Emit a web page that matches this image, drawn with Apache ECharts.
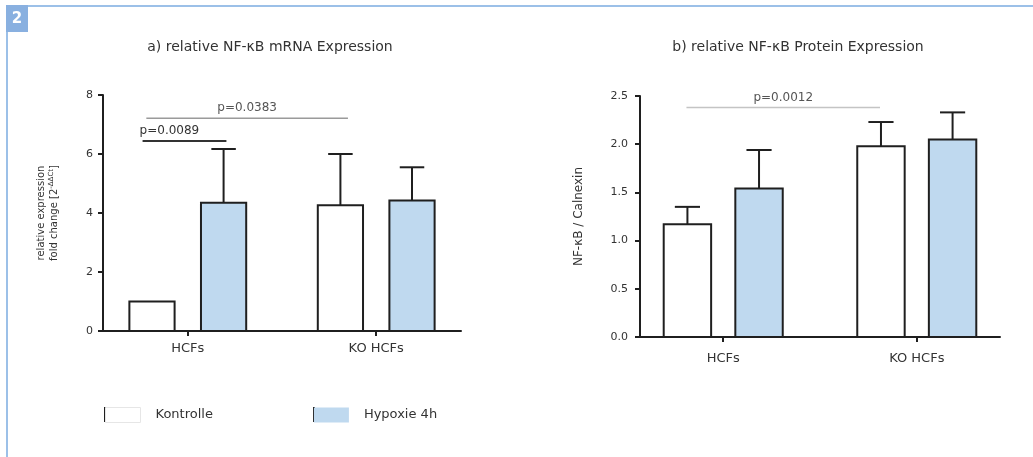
<!DOCTYPE html>
<html>
<head>
<meta charset="utf-8">
<script src="https://cdn.jsdelivr.net/npm/echarts@6/dist/echarts.min.js"></script>
<style>
  html, body { margin: 0; padding: 0; background: #fff; }
  #chart { width: 1033px; height: 457px; }
</style>
</head>
<body>
<div id="chart"></div>
<script>
// Groups on the x axis (0 and 1 on each panel's x scale)
const groups = ['HCFs', 'KO HCFs'];
const seriesNames = ['Kontrolle', 'Hypoxie 4h'];

// a) relative NF-κB mRNA expression (fold change), mean and upper SD
const mrnaKontrolle = [1.0, 4.26];
const mrnaKontrolleSD = [0, 1.74];
const mrnaHypoxie = [4.35, 4.42];
const mrnaHypoxieSD = [1.82, 1.13];

// b) relative NF-κB protein expression (NF-κB / Calnexin), mean and upper SD
const protKontrolle = [1.17, 1.98];
const protKontrolleSD = [0.18, 0.25];
const protHypoxie = [1.54, 2.05];
const protHypoxieSD = [0.40, 0.28];

// Significance brackets: [x start, x end, y, label]
const mrnaBrackets = [
  [-0.22, 0.85, 7.21, 'p=0.0383'],
  [-0.24, 0.205, 6.44, 'p=0.0089']
];
const protBrackets = [
  [-0.19, 0.81, 2.38, 'p=0.0012']
];

// y-axis ticks
const mrnaTicks = [0, 2, 4, 6, 8];
const protTicks = [0, 0.5, 1.0, 1.5, 2.0, 2.5];

const INK = '#1f1f1f';
const TXT = '#333';
const BLUE = '#bfd9ef';
const FONT = 'DejaVu Sans';

function rows(means, sds) {
  return means.map((m, i) => [i, m, sds[i]]);
}

function barRenderer(offset, width, capWidth) {
  return function (params, api) {
    const cx = api.value(0) + offset;
    const v = api.value(1);
    const e = api.value(2);
    const w = api.size([width, 0])[0];
    const capHalf = api.size([capWidth, 0])[0] / 2;
    const top = api.coord([cx, v]);
    const base = api.coord([cx, 0]);
    const errTop = api.coord([cx, v + e]);
    const children = [];
    if (e > 0) {
      children.push({
        type: 'line',
        shape: { x1: top[0], y1: top[1], x2: errTop[0], y2: errTop[1] },
        style: { stroke: INK, lineWidth: 2 }
      });
      children.push({
        type: 'line',
        shape: { x1: errTop[0] - capHalf, y1: errTop[1], x2: errTop[0] + capHalf, y2: errTop[1] },
        style: { stroke: INK, lineWidth: 2 }
      });
    }
    children.push({
      type: 'rect',
      shape: { x: top[0] - w / 2, y: top[1], width: w, height: base[1] - top[1] },
      style: { fill: api.visual('color'), stroke: INK, lineWidth: 2 }
    });
    return { type: 'group', children };
  };
}

function bracketRenderer(styles) {
  return function (params, api) {
    const i = params.dataIndex;
    const s = styles[i];
    const a = api.coord([api.value(0), api.value(2)]);
    const b = api.coord([api.value(1), api.value(2)]);
    const label = s.labels[i];
    const tx = s.align === 'left' ? a[0] - 3 : (a[0] + b[0]) / 2;
    return {
      type: 'group',
      children: [
        { type: 'line', shape: { x1: a[0], y1: a[1], x2: b[0], y2: b[1] },
          style: { stroke: s.color, lineWidth: s.width } },
        { type: 'text', x: tx, y: a[1] - 4,
          style: { text: label, fill: s.textColor, font: '12px "' + FONT + '"',
                   textAlign: s.align, textVerticalAlign: 'bottom' } }
      ]
    };
  };
}

const xAxisCommon = {
  type: 'value',
  interval: 1,
  axisLine: { show: true, onZero: false, lineStyle: { color: INK, width: 2 } },
  axisTick: { show: true, length: 5, customValues: [0, 1], lineStyle: { color: INK, width: 2 } },
  axisLabel: {
    customValues: [0, 1],
    formatter: v => groups[Math.round(v)],
    color: TXT, fontFamily: FONT, fontSize: 13, margin: 11
  },
  splitLine: { show: false }
};

const yAxisCommon = {
  type: 'value',
  axisLine: { show: true, onZero: false, lineStyle: { color: INK, width: 2 } },
  axisTick: { show: true, length: 5, lineStyle: { color: INK, width: 2 } },
  splitLine: { show: false },
  nameLocation: 'middle',
  nameRotate: 90
};

const chart = echarts.init(document.getElementById('chart'), null, { renderer: 'canvas' });

const option = {
  backgroundColor: '#ffffff',
  animation: false,
  title: [
    { text: 'a) relative NF-κB mRNA Expression', left: 265, top: 35, textAlign: 'center',
      textStyle: { fontFamily: FONT, fontSize: 14, fontWeight: 'normal', color: TXT } },
    { text: 'b) relative NF-κB Protein Expression', left: 793, top: 35, textAlign: 'center',
      textStyle: { fontFamily: FONT, fontSize: 14, fontWeight: 'normal', color: TXT } }
  ],
  legend: {
    left: 105, top: 407, padding: 0,
    itemWidth: 35, itemHeight: 15, itemGap: 101,
    selectedMode: false,
    textStyle: { fontFamily: FONT, fontSize: 13, color: TXT, padding: [0, 0, 0, 10] },
    data: [
      { name: seriesNames[0], icon: 'rect', itemStyle: { color: '#ffffff', borderColor: '#e6e6e6', borderWidth: 1 } },
      { name: seriesNames[1], icon: 'rect', itemStyle: { color: BLUE, borderWidth: 0 } }
    ]
  },
  grid: [
    { left: 103, right: 572, top: 95, bottom: 126 },
    { left: 640, right: 33, top: 96, bottom: 120 }
  ],
  xAxis: [
    Object.assign({}, xAxisCommon, { gridIndex: 0, min: -0.45, max: 1.45 }),
    Object.assign({}, xAxisCommon, { gridIndex: 1, min: -0.43, max: 1.43,
      axisLabel: Object.assign({}, xAxisCommon.axisLabel, { margin: 15 }) })
  ],
  yAxis: [
    Object.assign({}, yAxisCommon, {
      gridIndex: 0, min: mrnaTicks[0], max: mrnaTicks[mrnaTicks.length - 1], interval: 2,
      axisLabel: { color: TXT, fontFamily: FONT, fontSize: 11, margin: 10 },
      name: 'relative expression\nfold change [2{sup|-ΔΔCt}]',
      nameGap: 42,
      nameTextStyle: { fontFamily: FONT, fontSize: 10, color: TXT, lineHeight: 13,
        rich: { sup: { fontFamily: FONT, fontSize: 7, color: TXT, verticalAlign: 'top', lineHeight: 13 } } }
    }),
    Object.assign({}, yAxisCommon, {
      gridIndex: 1, min: protTicks[0], max: protTicks[protTicks.length - 1], interval: 0.5,
      axisLabel: { color: TXT, fontFamily: FONT, fontSize: 11, margin: 12, formatter: v => v.toFixed(1) },
      name: 'NF-κB / Calnexin',
      nameGap: 55,
      nameTextStyle: { fontFamily: FONT, fontSize: 12, color: TXT }
    })
  ],
  series: [
    { name: seriesNames[0], type: 'custom', xAxisIndex: 0, yAxisIndex: 0,
      itemStyle: { color: '#ffffff' }, encode: { x: 0, y: 1 },
      renderItem: barRenderer(-0.19, 0.24, 0.13), data: rows(mrnaKontrolle, mrnaKontrolleSD), z: 3 },
    { name: seriesNames[1], type: 'custom', xAxisIndex: 0, yAxisIndex: 0,
      itemStyle: { color: BLUE }, encode: { x: 0, y: 1 },
      renderItem: barRenderer(0.19, 0.24, 0.13), data: rows(mrnaHypoxie, mrnaHypoxieSD), z: 3 },
    { name: seriesNames[0], type: 'custom', xAxisIndex: 1, yAxisIndex: 1,
      itemStyle: { color: '#ffffff' }, encode: { x: 0, y: 1 },
      renderItem: barRenderer(-0.185, 0.245, 0.13), data: rows(protKontrolle, protKontrolleSD), z: 3 },
    { name: seriesNames[1], type: 'custom', xAxisIndex: 1, yAxisIndex: 1,
      itemStyle: { color: BLUE }, encode: { x: 0, y: 1 },
      renderItem: barRenderer(0.185, 0.245, 0.13), data: rows(protHypoxie, protHypoxieSD), z: 3 },
    { name: 'bracketsA', type: 'custom', xAxisIndex: 0, yAxisIndex: 0, silent: true,
      encode: { x: [0, 1], y: 2 },
      data: mrnaBrackets.map(b => [b[0], b[1], b[2]]),
      renderItem: bracketRenderer([
        { labels: mrnaBrackets.map(b => b[3]), color: '#9a9a9a', width: 1.5, textColor: '#555', align: 'center' },
        { labels: mrnaBrackets.map(b => b[3]), color: '#333333', width: 2, textColor: '#333', align: 'left' }
      ]) },
    { name: 'bracketsB', type: 'custom', xAxisIndex: 1, yAxisIndex: 1, silent: true,
      encode: { x: [0, 1], y: 2 },
      data: protBrackets.map(b => [b[0], b[1], b[2]]),
      renderItem: bracketRenderer([
        { labels: protBrackets.map(b => b[3]), color: '#c4c4c4', width: 1.5, textColor: '#555', align: 'center' }
      ]) }
  ],
  graphic: [
    // panel frame and number badge
    { type: 'line', shape: { x1: 7, y1: 6, x2: 1033, y2: 6 }, style: { stroke: '#9cc0e8', lineWidth: 2 } },
    { type: 'line', shape: { x1: 7, y1: 6, x2: 7, y2: 457 }, style: { stroke: '#9cc0e8', lineWidth: 2 } },
    { type: 'rect', shape: { x: 6, y: 5, width: 22, height: 27 }, style: { fill: '#89b0e0' } },
    { type: 'text', x: 17, y: 19, style: { text: '2', fill: '#ffffff', font: 'bold 15px "DejaVu Sans"',
      textAlign: 'center', textVerticalAlign: 'middle' } },
    // dark left edge of the legend swatches
    { type: 'line', shape: { x1: 105, y1: 407, x2: 105, y2: 422 }, style: { stroke: INK, lineWidth: 2 } },
    { type: 'line', shape: { x1: 314, y1: 407, x2: 314, y2: 422 }, style: { stroke: INK, lineWidth: 2 } }
  ]
};

chart.setOption(option);
</script>
</body>
</html>
